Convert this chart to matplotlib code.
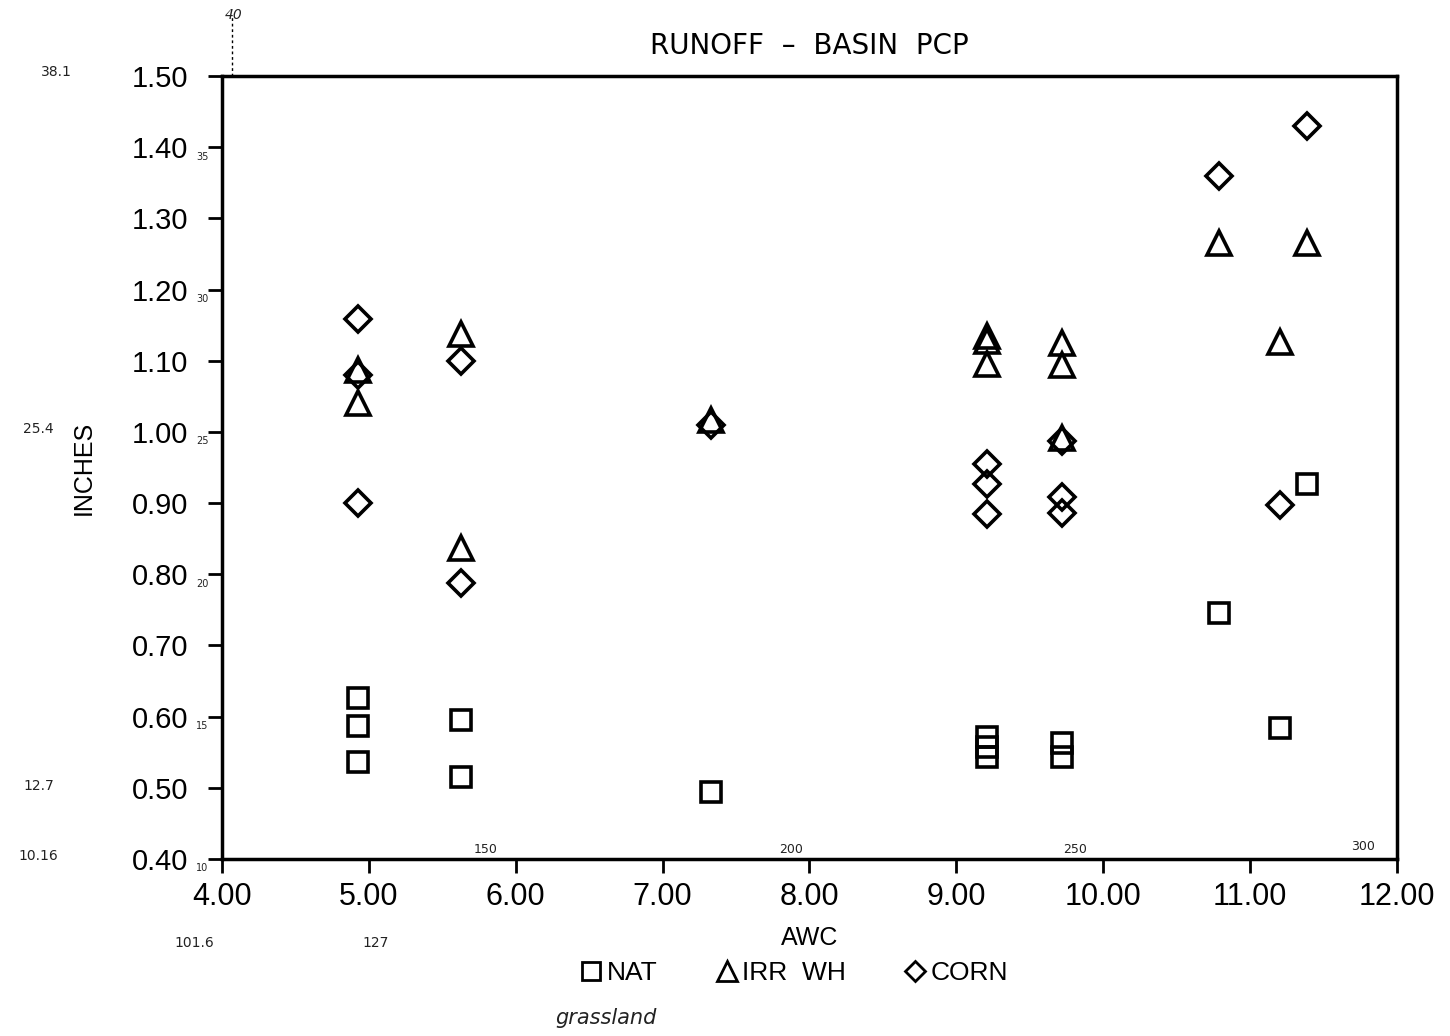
import matplotlib
matplotlib.use("Agg")
import matplotlib.pyplot as plt
from matplotlib.lines import Line2D

plt.rcParams['font.family'] = ['Liberation Sans', 'DejaVu Sans']

# AWC (inches) vs runoff minus basin precipitation (inches)
nat_x = [4.93, 4.93, 4.93, 5.63, 5.63, 7.33, 9.21, 9.21, 9.21, 9.72, 9.72, 10.79, 11.20, 11.39]
nat_y = [0.626, 0.587, 0.536, 0.595, 0.515, 0.494, 0.571, 0.557, 0.543, 0.563, 0.543, 0.746, 0.584, 0.927]

irr_x = [4.93, 4.93, 5.63, 5.63, 7.33, 9.21, 9.21, 9.21, 9.72, 9.72, 9.72, 10.79, 11.20, 11.39]
irr_y = [1.087, 1.041, 1.138, 0.837, 1.017, 1.135, 1.128, 1.095, 1.125, 1.094, 0.991, 1.265, 1.126, 1.265]

corn_x = [4.93, 4.93, 4.93, 5.63, 5.63, 7.33, 9.21, 9.21, 9.21, 9.72, 9.72, 9.72, 10.79, 11.20, 11.39]
corn_y = [1.159, 1.080, 0.900, 1.100, 0.788, 1.010, 0.955, 0.927, 0.885, 0.987, 0.909, 0.886, 1.360, 0.897, 1.430]

x_ticks = [4, 5, 6, 7, 8, 9, 10, 11, 12]
y_ticks = [0.4, 0.5, 0.6, 0.7, 0.8, 0.9, 1.0, 1.1, 1.2, 1.3, 1.4, 1.5]

# pencilled metric equivalents (mm) next to some y ticks
mm_ticks = [(1.40, '35'), (1.20, '30'), (1.00, '25'), (0.80, '20'), (0.60, '15'), (0.40, '10')]

fig = plt.figure(figsize=(14.5, 10.36), dpi=100)
ax = fig.add_axes([0.153, 0.171, 0.8105, 0.7556])

style = dict(linestyle='none', markerfacecolor='none', markeredgecolor='black', markeredgewidth=2.6)
ax.plot(nat_x, nat_y, marker='s', markersize=15, **style)
ax.plot(irr_x, irr_y, marker='^', markersize=17, **style)
ax.plot(corn_x, corn_y, marker='D', markersize=13, **style)

ax.set_xlim(4, 12)
ax.set_ylim(0.4, 1.5)
ax.set_xticks(x_ticks)
ax.set_xticklabels(['%.2f' % v for v in x_ticks])
ax.set_yticks(y_ticks)
ax.set_yticklabels(['%.2f' % v for v in y_ticks])
ax.tick_params(direction='out', length=10, width=2)
ax.tick_params(axis='x', labelsize=22, pad=7)
ax.tick_params(axis='y', labelsize=21, pad=14)
for s in ax.spines.values():
    s.set_linewidth(2.5)

ax.set_xlabel('AWC', fontsize=18, labelpad=10)
ax.set_ylabel('INCHES', fontsize=18, labelpad=26)
ax.set_title('RUNOFF  \u2013  BASIN  PCP', fontsize=20, pad=16, x=0.5, family=['DejaVu Sans'])

leg_style = dict(linestyle='none', markerfacecolor='none', markeredgecolor='black', markeredgewidth=2)
handles = [
    Line2D([], [], marker='s', markersize=13, **leg_style),
    Line2D([], [], marker='^', markersize=14, **leg_style),
    Line2D([], [], marker='D', markersize=10, **leg_style),
]
fig.legend(handles, ['NAT', 'IRR  WH', 'CORN'], loc='center', bbox_to_anchor=(0.548, 0.061),
           ncol=3, frameon=False, fontsize=19, handlelength=0.8, handletextpad=0.2,
           columnspacing=2.2)

# handwritten metric conversions in the margins
hw = dict(color='#222222', family=['DejaVu Sans'])
fig.text(0.028, 0.927, '38.1', fontsize=10, **hw)
fig.text(0.155, 0.982, '40', fontsize=10, style='italic', **hw)
fig.text(0.016, 0.582, '25.4', fontsize=10, **hw)
fig.text(0.016, 0.237, '12.7', fontsize=10, **hw)
fig.text(0.013, 0.170, '10.16', fontsize=10, **hw)
fig.text(0.120, 0.086, '101.6', fontsize=10, **hw)
fig.text(0.250, 0.086, '127', fontsize=10, **hw)
fig.text(0.327, 0.177, '150', fontsize=9, **hw)
fig.text(0.537, 0.177, '200', fontsize=9, **hw)
fig.text(0.733, 0.177, '250', fontsize=9, **hw)
fig.text(0.932, 0.180, '300', fontsize=9, **hw)
fig.text(0.383, 0.012, 'grassland', fontsize=15, style='italic', **hw)
for yv, lab in mm_ticks:
    ax.annotate(lab, xy=(0, yv), xycoords=('axes fraction', 'data'), xytext=(-18.5, -9),
                textcoords='offset points', fontsize=7, **hw)
fig.add_artist(Line2D([0.160, 0.160], [0.927, 0.985], color='black', lw=1, linestyle=(0, (2, 2))))

fig.savefig('out.png', dpi=100)
